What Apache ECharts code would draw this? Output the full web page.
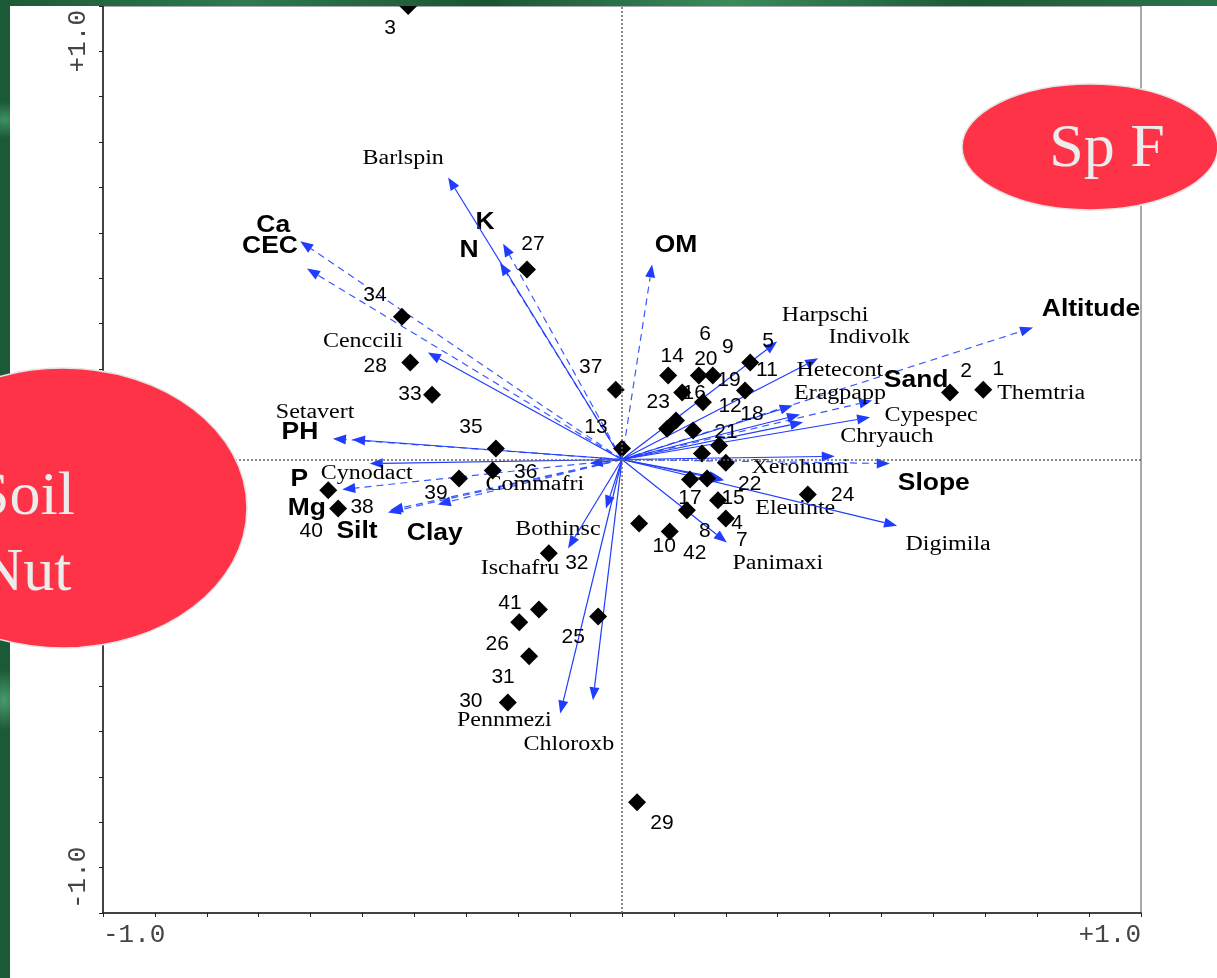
<!DOCTYPE html>
<html>
<head>
<meta charset="utf-8">
<script src="https://cdn.jsdelivr.net/npm/echarts@6/dist/echarts.min.js"></script>
<style>
  html, body { margin:0; padding:0; width:1217px; height:978px; overflow:hidden; }
  #green { position:absolute; left:0; top:0; width:1217px; height:978px;
    background:
      radial-gradient(ellipse 30px 18px at 5px 120px, #3f8f63 0%, rgba(63,143,99,0) 100%),
      radial-gradient(ellipse 20px 30px at 4px 700px, #4a9a6e 0%, rgba(74,154,110,0) 100%),
      radial-gradient(ellipse 60px 6px at 300px 2px, #3d8a5e 0%, rgba(61,138,94,0) 100%),
      radial-gradient(ellipse 80px 6px at 850px 3px, #4b9a70 0%, rgba(75,154,112,0) 100%),
      #1b5a36; }
  #white { position:absolute; left:10px; top:6px; right:0; bottom:0; background:#ffffff; }
  #topstrip { position:absolute; left:0; top:0; width:1217px; height:6px; z-index:5;
    background: linear-gradient(90deg, #1b5a36, #2f7a50 20%, #1a5533 40%, #3a8a5c 60%, #1b5a36 80%, #2c744c); }
  #chart { position:absolute; left:0; top:0; width:1217px; height:978px; z-index:2; }
</style>
</head>
<body>
<div id="green"></div>
<div id="white"></div>
<div id="chart"></div>
<div id="topstrip"></div>
<script>
// ---------- DATA ----------
const siteNames = ['1','2','3','4','5','6','7','8','9','10','11','12','13','14','15','16','17','18','19','20','21',
  '22','23','24','25','26','27','28','29','30','31','32','33','34','35','36','37','38','39','40','41','42'];
const siteX = [0.696,0.632,-0.412,0.185,0.247,0.104,0.200,0.125,0.175,0.033,0.237,0.137,0.000,0.089,0.164,0.116,0.131,0.187,0.156,0.148,0.154,
  0.200,0.087,0.358,-0.046,-0.198,-0.183,-0.408,0.029,-0.220,-0.179,-0.141,-0.366,-0.424,-0.243,-0.249,-0.012,-0.547,-0.314,-0.566,-0.160,0.092];
const siteY = [0.154,0.148,1.000,-0.090,0.214,0.086,-0.130,-0.112,0.185,-0.141,0.152,0.064,0.024,0.185,-0.042,0.148,-0.044,0.031,0.126,0.185,0.013,
  -0.007,0.068,-0.077,-0.346,-0.359,0.419,0.214,-0.756,-0.536,-0.434,-0.207,0.143,0.315,0.024,-0.024,0.154,-0.108,-0.042,-0.068,-0.331,-0.159];

const speciesNames = ['Barlspin','Cenccili','Setavert','Cynodact','Commafri','Bothinsc','Ischafru','Pennmezi','Chloroxb','Harpschi',
  'Indivolk','Hetecont','Eragpapp','Themtria','Cypespec','Chryauch','Xerohumi','Eleuinte','Digimila','Panimaxi'];
const speciesX = [-0.335,-0.374,-0.520,-0.486,-0.062,-0.031,-0.104,-0.119,-0.056,0.299,0.378,0.329,0.343,0.349,0.478,0.410,0.193,0.197,0.530,0.202];
const speciesY = [0.622,0.236,0.044,-0.009,-0.009,-0.108,-0.196,-0.560,-0.531,0.260,0.223,0.119,0.099,0.082,0.093,0.007,-0.042,-0.046,-0.146,-0.183];

const envNames = ['Ca','CEC','K','N','OM','Altitude','Sand','PH','P','Mg','Silt','Clay','Slope'];
const envX = [-0.620,-0.607,-0.229,-0.235,0.058,0.792,0.482,-0.557,-0.539,-0.451,-0.447,-0.355,0.516];
const envY = [0.481,0.421,0.476,0.434,0.430,0.291,0.130,0.046,-0.066,-0.117,-0.112,-0.099,-0.009];

const axisTickLabels = { '-1': '-1.0', '1': '+1.0' };

// ---------- STYLE (label offsets in px, not data) ----------
const siteLabelOffset = [[15,-20],[16,-21],[-18,22],[19,23],[18,-21],[29,-86],[16,22],[18,21],[15,-28],[25,23],[22,-20],[37,-24],[-26,-21],[4,-19],
  [26,20],[12,1],[0,19],[33,-31],[26,-22],[7,-16],[24,-21],[24,22],[-9,-26],[35,1],[-25,21],[-22,22],[6,-25],[-35,4],[25,21],[-37,-1],
  [-26,21],[28,10],[-22,0],[-27,-21],[-25,-21],[33,2],[-25,-22],[24,-1],[-23,15],[-17,41],[-29,-6],[25,22]];
const speciesLabelOffset = [[-45,-19],[-65,-11],[-37,-27],[-3,10],[-55,21],[-48,21],[-48,20],[-56,7],[-24,44],[48,-26],
  [51,-21],[47,-35],[40,-21],[238,-29],[61,-2],[52,-20],[78,-11],[71,28],[51,19],[51,21]];
const envLabelOffset = [[-27,-16],[-37,-22],[-18,-21],[-31,-12],[24,-19],[58,-18],[44,-20],[-33,-6],[-43,-10],[-81,-4],[-33,21],[-3,29],[44,20]];

const ARROW_COLOR = '#1f3cff';

function arrowRenderer(names, offsets, dashed, font, scaleX) {
  return function (params, api) {
    const i = params.dataIndex;
    const o = api.coord([0, 0]);
    const t = api.coord([api.value(0), api.value(1)]);
    const dx = t[0] - o[0], dy = t[1] - o[1];
    const len = Math.hypot(dx, dy) || 1;
    const ux = dx / len, uy = dy / len;
    const hl = 13, hw = 5;
    const bx = t[0] - ux * hl, by = t[1] - uy * hl;
    const off = offsets[i];
    return {
      type: 'group',
      children: [
        { type: 'line', shape: { x1: o[0], y1: o[1], x2: bx, y2: by },
          style: { stroke: dashed ? '#3a5aff' : ARROW_COLOR, lineWidth: 1.2, lineDash: dashed ? [7, 5] : null } },
        { type: 'polygon', shape: { points: [[t[0], t[1]], [bx - uy * hw, by + ux * hw], [bx + uy * hw, by - ux * hw]] },
          style: { fill: ARROW_COLOR } },
        { type: 'text', x: t[0] + off[0], y: t[1] + off[1], scaleX: scaleX,
          style: { text: names[i], font: font, fill: '#000', align: 'center', verticalAlign: 'middle' } }
      ]
    };
  };
}

const chart = echarts.init(document.getElementById('chart'), null, { renderer: 'canvas' });

const labelFmt = v => {
  if (Math.abs(v + 1) < 1e-9) return axisTickLabels['-1'];
  if (Math.abs(v - 1) < 1e-9) return axisTickLabels['1'];
  return '';
};

chart.setOption({
  backgroundColor: 'transparent',
  animation: false,
  grid: { left: 103, right: 76, top: 6, bottom: 65, show: true, borderColor: '#555', borderWidth: 1 },
  xAxis: {
    type: 'value', min: -1, max: 1, interval: 0.1,
    axisLine: { show: true, onZero: false, lineStyle: { color: '#222', width: 1.5 } },
    axisTick: { show: true, length: 4, lineStyle: { color: '#222' } },
    splitLine: { show: false },
    axisLabel: { formatter: labelFmt, fontFamily: 'Liberation Mono', fontSize: 26, color: '#444', margin: 9,
      showMinLabel: true, showMaxLabel: true, alignMinLabel: 'left', alignMaxLabel: 'right' }
  },
  yAxis: {
    type: 'value', min: -1, max: 1, interval: 0.1,
    axisLine: { show: true, onZero: false, lineStyle: { color: '#222', width: 1.5 } },
    axisTick: { show: true, length: 4, lineStyle: { color: '#222' } },
    splitLine: { show: false },
    axisLabel: { formatter: labelFmt, fontFamily: 'Liberation Mono', fontSize: 26, color: '#444', margin: 12, rotate: 90,
      showMinLabel: true, showMaxLabel: true, alignMinLabel: 'left', alignMaxLabel: 'right',
      padding: [0, 4, 0, 4] }
  },
  series: [
    {
      type: 'custom', name: 'env', z: 2,
      renderItem: arrowRenderer(envNames, envLabelOffset, true, 'bold 23px "Liberation Sans", Arial, sans-serif', 1.15),
      data: envX.map((x, i) => [x, envY[i]])
    },
    {
      type: 'custom', name: 'species', z: 2,
      renderItem: arrowRenderer(speciesNames, speciesLabelOffset, false, '20px "Liberation Serif", "Times New Roman", serif', 1.2),
      data: speciesX.map((x, i) => [x, speciesY[i]])
    },
    {
      type: 'scatter', name: 'sites', z: 3, clip: false,
      symbol: 'diamond', symbolSize: 18,
      itemStyle: { color: '#000', opacity: 1 },
      label: { show: true, position: 'inside', formatter: '{b}', color: '#000', opacity: 1,
        fontFamily: '"Liberation Sans", Arial, sans-serif', fontSize: 21 },
      data: siteNames.map((n, i) => ({ name: n, value: [siteX[i], siteY[i]], label: { offset: siteLabelOffset[i] } })),
      markLine: {
        silent: true, symbol: 'none', animation: false,
        label: { show: false },
        lineStyle: { color: '#666', type: [2, 2], width: 1.5, opacity: 1 },
        data: [{ xAxis: 0 }, { yAxis: 0 }]
      }
    }
  ],
  graphic: [
    { type: 'ellipse', z: 100, shape: { cx: 1090, cy: 147, rx: 128, ry: 63 },
      style: { fill: '#ff3347', stroke: '#e4e4e4', lineWidth: 1.5 } },
    { type: 'text', z: 101, x: 1107, y: 150,
      style: { text: 'Sp F', font: '62px "Liberation Serif", "Times New Roman", serif', fill: '#ececec', align: 'center', verticalAlign: 'middle' } },
    { type: 'ellipse', z: 100, shape: { cx: 63, cy: 508, rx: 184, ry: 140 },
      style: { fill: '#ff3347', stroke: '#e4e4e4', lineWidth: 1.5 } },
    { type: 'text', z: 101, x: 25, y: 536,
      style: { text: 'Soil\nNut', font: '62px "Liberation Serif", "Times New Roman", serif', lineHeight: 76, fill: '#ececec', align: 'center', verticalAlign: 'middle' } }
  ]
});
</script>
</body>
</html>
